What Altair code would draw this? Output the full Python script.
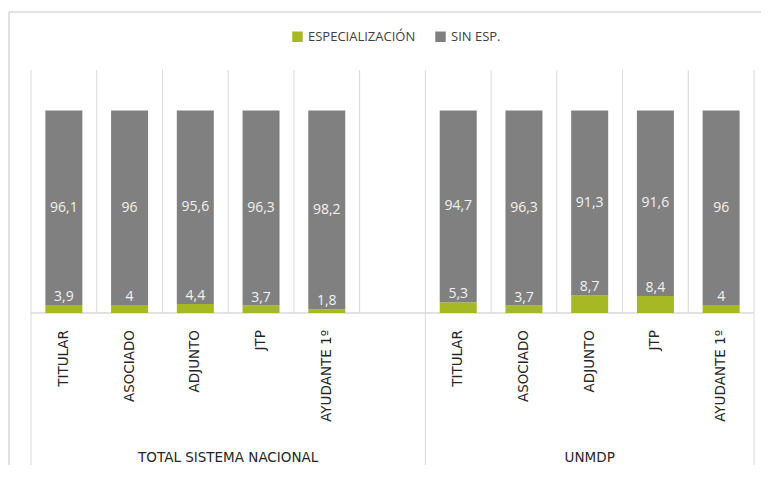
import altair as alt
import pandas as pd

categories = ["TITULAR", "ASOCIADO", "ADJUNTO", "JTP", "AYUDANTE 1º"]
groups = ["TOTAL SISTEMA NACIONAL", "UNMDP"]
series = ["ESPECIALIZACIÓN", "SIN ESP."]
total_esp = [3.9, 4, 4.4, 3.7, 1.8]
total_sin = [96.1, 96, 95.6, 96.3, 98.2]
unmdp_esp = [5.3, 3.7, 8.7, 8.4, 4]
unmdp_sin = [94.7, 96.3, 91.3, 91.6, 96]
colors = ["#A6B824", "#808080"]

FONT = "Open Sans"
AXFONT = "DejaVu Sans"
GRID = "#d9d9d9"


def fmt(v):
    s = ("%g" % v)
    return s.replace(".", ",")


# slot layout: group 1 slots 0..4, empty slot 5, group 2 slots 6..10
rows = []
cat_rows = []
for gi, (esp, sin) in enumerate([(total_esp, total_sin), (unmdp_esp, unmdp_sin)]):
    for ci, cat in enumerate(categories):
        slot = ci + gi * 6
        xc = slot + 0.5
        rows.append({"x": xc, "serie": series[0], "v": esp[ci], "order": 0,
                     "lab": fmt(esp[ci]), "ly": esp[ci], "kind": "small"})
        rows.append({"x": xc, "serie": series[1], "v": sin[ci], "order": 1,
                     "lab": fmt(sin[ci]), "ly": esp[ci] + sin[ci] / 2, "kind": "big"})
        cat_rows.append({"x": xc, "cat": cat})
df = pd.DataFrame(rows)
cats = pd.DataFrame(cat_rows)
group_df = pd.DataFrame({"x": [3, 8.5], "g": groups})
sep_df = pd.DataFrame({"b": list(range(12)), "top": [120] * 12, "bot": [0] * 12})
ext_df = pd.DataFrame({"b": [0, 6, 11]})
base_df = pd.DataFrame({"a": [0], "a2": [11], "y": [0]})

xs = alt.Scale(domain=[0, 11], nice=False, zero=False)
ys = alt.Scale(domain=[0, 120], nice=False)

H = 243
BOTTOM = 152

seps = alt.Chart(sep_df).mark_rule(color=GRID, strokeWidth=1).encode(
    x=alt.X("b:Q", scale=xs, axis=None),
    y=alt.Y("top:Q", scale=ys, axis=None),
    y2="bot:Q",
)
ext = alt.Chart(ext_df).mark_rule(color=GRID, strokeWidth=1).encode(
    x=alt.X("b:Q", scale=xs, axis=None),
    y=alt.value(H),
    y2=alt.value(H + BOTTOM),
)
baseline = alt.Chart(base_df).mark_rule(color=GRID, strokeWidth=1.5).encode(
    x=alt.X("a:Q", scale=xs, axis=None),
    x2="a2:Q",
    y=alt.Y("y:Q", scale=ys, axis=None),
)
frame_left = alt.Chart(base_df).mark_rule(color=GRID, strokeWidth=1.5).encode(
    x=alt.value(-17), y=alt.value(-58), y2=alt.value(H + BOTTOM)
)
frame_top = alt.Chart(base_df).mark_rule(color=GRID, strokeWidth=1.5).encode(
    x=alt.value(-17), x2=alt.value(735), y=alt.value(-58)
)

bars = alt.Chart(df).mark_bar(size=37).encode(
    x=alt.X("x:Q", scale=xs, axis=None),
    y=alt.Y("v:Q", stack="zero", scale=ys, axis=None),
    color=alt.Color(
        "serie:N",
        scale=alt.Scale(domain=series, range=colors),
        legend=alt.Legend(
            orient="none", legendX=265, legendY=-40, direction="horizontal",
            title=None, symbolType="square", symbolSize=110, symbolStrokeWidth=0,
            labelFontSize=13, labelFont=FONT, labelColor="#404040",
            columnPadding=18, labelOffset=4,
        ),
    ),
    order=alt.Order("order:Q"),
)

big_labels = alt.Chart(df[df.kind == "big"]).mark_text(
    font=FONT, fontSize=14, color="#f2f2f2", baseline="middle"
).encode(
    x=alt.X("x:Q", scale=xs, axis=None),
    y=alt.Y("ly:Q", scale=ys, axis=None),
    text="lab:N",
)
small_labels = alt.Chart(df[df.kind == "small"]).mark_text(
    font=FONT, fontSize=14, color="#f2f2f2", baseline="bottom", dy=-1
).encode(
    x=alt.X("x:Q", scale=xs, axis=None),
    y=alt.Y("ly:Q", scale=ys, axis=None),
    text="lab:N",
)
cat_labels = alt.Chart(cats).mark_text(
    font=AXFONT, fontSize=13.5, color="#262626", angle=270, align="right", baseline="middle"
).encode(
    x=alt.X("x:Q", scale=xs, axis=None),
    y=alt.value(H + 17),
    text="cat:N",
)
group_labels = alt.Chart(group_df).mark_text(
    font=AXFONT, fontSize=13.5, color="#262626", align="center", baseline="middle"
).encode(
    x=alt.X("x:Q", scale=xs, axis=None),
    y=alt.value(H + 145),
    text="g:N",
)

chart = alt.layer(
    frame_left, frame_top, seps, ext, baseline, bars, big_labels, small_labels,
    cat_labels, group_labels,
).properties(
    width=733, height=H,
    autosize=alt.AutoSizeParams(type="none"),
    padding={"left": 18, "top": 62, "right": 2, "bottom": BOTTOM},
).configure_view(stroke=None)

chart.save("out.html", embed_options={"renderer": "svg", "actions": False})
